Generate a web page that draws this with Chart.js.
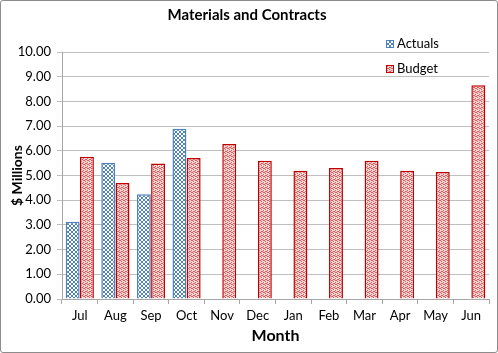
<!DOCTYPE html>
<html>
<head>
<meta charset="utf-8">
<script src="https://cdn.jsdelivr.net/npm/chart.js@4"></script>
<style>
  html, body { margin: 0; padding: 0; background: #fff; }
  .frame { width: 496px; height: 351px; border: 1px solid #8c8c8c; border-radius: 3px; position: relative; }
  canvas { display: block; }
</style>
</head>
<body>
<div class="frame"><canvas id="chart" width="496" height="351"></canvas></div>
<script>
// Chart data
const months = ['Jul', 'Aug', 'Sep', 'Oct', 'Nov', 'Dec', 'Jan', 'Feb', 'Mar', 'Apr', 'May', 'Jun'];
const actuals = [3.13, 5.52, 4.24, 6.89, null, null, null, null, null, null, null, null];
const budget = [5.76, 4.70, 5.49, 5.71, 6.28, 5.60, 5.19, 5.30, 5.60, 5.19, 5.14, 8.65];
const yTicks = [0, 1, 2, 3, 4, 5, 6, 7, 8, 9, 10];

const FONT = 'Lato, "Open Sans", sans-serif';

// Fill patterns (checker for actuals, fine dither for budget)
function makePattern(size, bg, fg, cells) {
    const c = document.createElement('canvas');
    c.width = size; c.height = size;
    const g = c.getContext('2d');
    g.fillStyle = bg;
    g.fillRect(0, 0, size, size);
    g.fillStyle = fg;
    cells.forEach(([x, y, w, h]) => g.fillRect(x, y, w, h));
    return g.createPattern(c, 'repeat');
}
const ctx = document.getElementById('chart').getContext('2d');
const bluePattern = makePattern(4, '#ffffff', '#4f81bd', [[0, 0, 2, 2], [2, 2, 2, 2]]);
const redPattern = makePattern(4, '#f8d6d6', '#e35a5a', [[0, 0, 1, 1], [2, 1, 1, 1], [1, 2, 1, 1], [3, 3, 1, 1], [2, 3, 1, 1], [0, 2, 1, 1]]);

// Legend drawn inside the plot area, top right
const insideLegend = {
    id: 'insideLegend',
    afterDraw(chart) {
        const c = chart.ctx;
        const area = chart.chartArea;
        const x = area.right - 103;
        const rows = [area.top - 8, area.top + 17];
        c.save();
        c.font = '13px ' + FONT;
        c.textBaseline = 'middle';
        chart.data.datasets.forEach((ds, i) => {
            const y = rows[i];
            c.fillStyle = ds.backgroundColor;
            c.fillRect(x, y - 4, 8, 8);
            c.strokeStyle = ds.borderColor;
            c.lineWidth = 1;
            c.strokeRect(x + 0.5, y - 3.5, 7, 7);
            c.fillStyle = '#000';
            c.fillText(ds.label, x + 11, y);
        });
        c.restore();
    }
};

new Chart(ctx, {
    type: 'bar',
    data: {
        labels: months,
        datasets: [{
            label: 'Actuals',
            data: actuals,
            backgroundColor: bluePattern,
            borderColor: '#4f81bd',
            borderWidth: 1.5,
            categoryPercentage: 0.8,
            barPercentage: 0.98
        }, {
            label: 'Budget',
            data: budget,
            backgroundColor: redPattern,
            borderColor: '#c00000',
            borderWidth: 1.5,
            categoryPercentage: 0.8,
            barPercentage: 0.98
        }]
    },
    options: {
        responsive: false,
        animation: false,
        layout: { padding: { left: 4, right: 8, top: 0, bottom: 4 } },
        plugins: {
            legend: { display: false },
            tooltip: { enabled: false },
            title: {
                display: true,
                text: 'Materials and Contracts',
                color: '#000',
                font: { family: FONT, size: 15, weight: 'bold' },
                padding: { top: 5, bottom: 28 }
            }
        },
        scales: {
            x: {
                afterFit: axis => { axis.height = 49; },
                grid: { display: true, drawOnChartArea: false, drawTicks: true, tickLength: 5, color: '#a6a6a6', offset: true },
                border: { color: '#a6a6a6' },
                ticks: { color: '#000', font: { family: FONT, size: 13 }, padding: 4 },
                title: {
                    display: true,
                    text: 'Month',
                    color: '#000',
                    font: { family: FONT, size: 16, weight: 'bold' },
                    padding: { top: 0, bottom: 3 }
                }
            },
            y: {
                min: 0,
                max: 10,
                afterFit: axis => { axis.width = 57; },
                afterBuildTicks: axis => { axis.ticks = yTicks.map(v => ({ value: v })); },
                grid: { color: '#bfbfbf', tickLength: 5, drawTicks: true },
                border: { color: '#a6a6a6' },
                ticks: {
                    color: '#000',
                    font: { family: FONT, size: 13 },
                    padding: 6,
                    callback: v => v.toFixed(2)
                },
                title: {
                    display: true,
                    text: '$ Millions',
                    color: '#000',
                    font: { family: FONT, size: 14, weight: 'bold' },
                    padding: { top: 4, bottom: 0 }
                }
            }
        }
    },
    plugins: [insideLegend]
});
</script>
</body>
</html>
